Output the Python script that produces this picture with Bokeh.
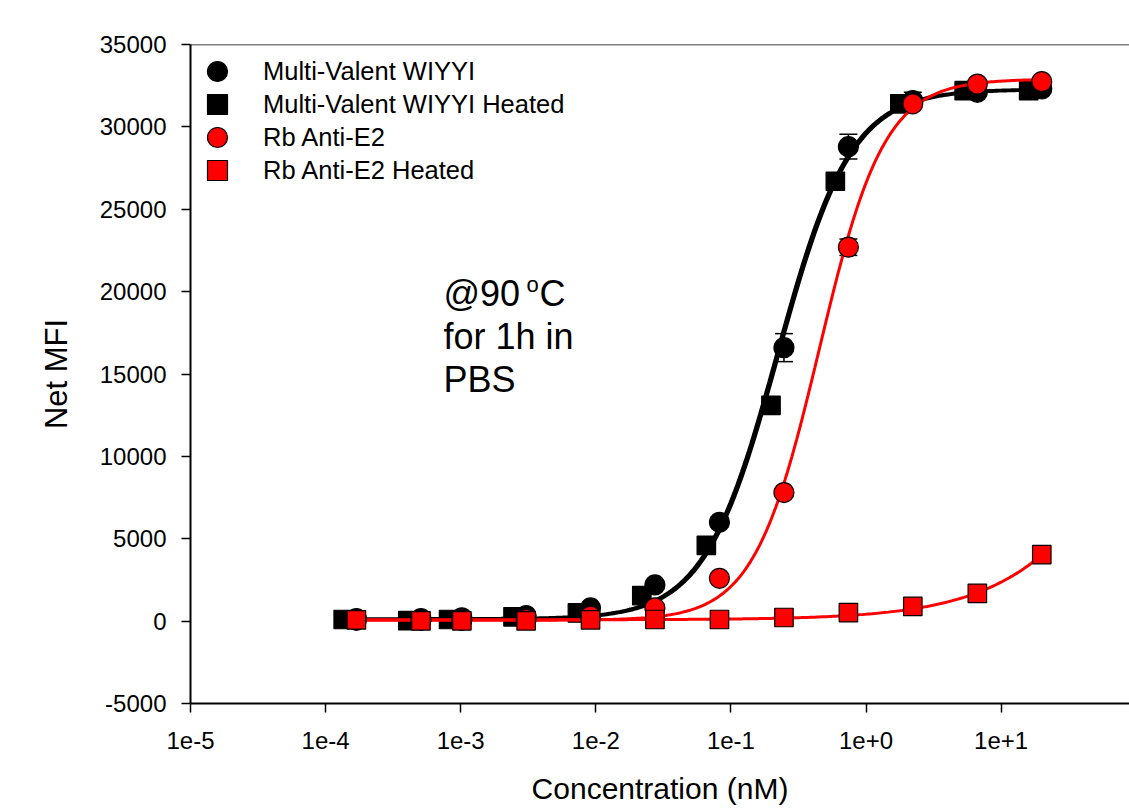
import numpy as np
from bokeh.plotting import figure
from bokeh.models import FixedTicker, Label, Span, Whisker, ColumnDataSource, TeeHead, Legend, LegendItem
from bokeh.embed import file_html
from bokeh.resources import INLINE

FONT = "Liberation Sans"

# ---- data ----
conc = [20, 6.67, 2.22, 0.741, 0.247, 0.0823, 0.0274, 0.00914, 0.00305, 0.00102, 0.000508, 0.000169]
conc_mv_heated = [16, 5.33, 1.78, 0.593, 0.198, 0.0658, 0.0219, 0.00731, 0.00244, 0.000813, 0.000406, 0.000135]

mv_y = [32300, 32100, 31600, 28800, 16600, 6000, 2200, 800, 340, 200, 150, 150]
mv_err = [0, 0, 500, 750, 850, 300, 0, 0, 0, 0, 0, 0]
mvh_y = [32200, 32200, 31400, 26700, 13100, 4600, 1550, 500, 260, 100, 30, 100]
rb_y = [32750, 32600, 31400, 22700, 7800, 2600, 800, 300, 100, 50, 50, 50]
rb_err = [0, 0, 0, 500, 0, 0, 0, 0, 0, 0, 0, 0]
rbh_y = [4040, 1680, 890, 520, 220, 100, 100, 80, 20, 20, 20, 80]

# 4-parameter logistic fits: (bottom, top, EC50, hill)
mv_fit = (150, 32300, 0.218, 1.6)
mvh_fit = (100, 32250, 0.226, 1.6)
rb_fit = (50, 32900, 0.45, 1.8)
rbh_fit = (80, 40000, 270, 0.85)

series_names = ["Multi-Valent WIYYI", "Multi-Valent WIYYI Heated", "Rb Anti-E2", "Rb Anti-E2 Heated"]

x_ticks = [1e-5, 1e-4, 1e-3, 1e-2, 1e-1, 1e0, 1e1]
x_tick_labels = ["1e-5", "1e-4", "1e-3", "1e-2", "1e-1", "1e+0", "1e+1"]
y_ticks = [-5000, 0, 5000, 10000, 15000, 20000, 25000, 30000, 35000]
y_tick_labels = ["-5000", "0", "5000", "10000", "15000", "20000", "25000", "30000", "35000"]


def fit_curve(xs, params):
    b, t, ec, h = params
    xx = np.logspace(np.log10(min(xs)), np.log10(max(xs)), 300)
    yy = b + (t - b) / (1.0 + (ec / xx) ** h)
    return xx, yy


p = figure(width=1129, height=812, x_axis_type="log", x_range=(1e-5, 89.2), y_range=(-5000, 35000),
           output_backend="svg", toolbar_location=None,
           min_border_left=190, min_border_right=0, min_border_top=44, min_border_bottom=109,
           background_fill_color="white", border_fill_color="white")
p.outline_line_color = None
p.grid.visible = False

# error bars (under markers)
def add_err(xs, ys, errs):
    idx = [i for i, e in enumerate(errs) if e > 0]
    src = ColumnDataSource(dict(x=[xs[i] for i in idx],
                                lo=[ys[i] - errs[i] for i in idx],
                                hi=[ys[i] + errs[i] for i in idx]))
    w = Whisker(base="x", lower="lo", upper="hi", source=src, dimension="height",
                line_color="black", line_width=1.5, level="underlay",
                upper_head=TeeHead(size=18, line_color="black", line_width=1.5),
                lower_head=TeeHead(size=18, line_color="black", line_width=1.5))
    p.add_layout(w)

add_err(conc, mv_y, mv_err)
add_err(conc, rb_y, rb_err)

# black series
xx, yy = fit_curve(conc, mv_fit)
p.line(xx, yy, line_color="black", line_width=3)
xx, yy = fit_curve(conc_mv_heated, mvh_fit)
p.line(xx, yy, line_color="black", line_width=3)
r_mv = p.scatter(conc, mv_y, marker="circle", size=20, fill_color="black", line_color="black",
                 line_width=1.2)
r_mvh = p.scatter(conc_mv_heated, mvh_y, marker="square", size=18.5, fill_color="black",
                  line_color="black", line_width=1.2)

# red series
xx, yy = fit_curve(conc, rb_fit)
p.line(xx, yy, line_color="#ff0000", line_width=3)
xx, yy = fit_curve(conc, rbh_fit)
p.line(xx, yy, line_color="#ff0000", line_width=3)
r_rb = p.scatter(conc, rb_y, marker="circle", size=20, fill_color="#ff0000", line_color="black",
                 line_width=1.2)
r_rbh = p.scatter(conc, rbh_y, marker="square", size=18.5, fill_color="#ff0000", line_color="black",
                  line_width=1.2)

# top border line
p.add_layout(Span(location=35000, dimension="width", line_color="black", line_width=1.5))

# axes
p.xaxis.ticker = FixedTicker(ticks=x_ticks)
p.xaxis.major_label_overrides = {t: l for t, l in zip(x_ticks, x_tick_labels)}
p.yaxis.ticker = FixedTicker(ticks=y_ticks)
p.yaxis.major_label_overrides = {t: l for t, l in zip(y_ticks, y_tick_labels)}
p.xaxis.axis_label = "Concentration (nM)"
p.yaxis.axis_label = "Net MFI"
for ax in (p.xaxis, p.yaxis):
    ax.axis_line_color = "black"
    ax.axis_line_width = 2
    ax.major_tick_line_color = "black"
    ax.major_tick_line_width = 1.5
    ax.major_tick_in = 0
    ax.major_tick_out = 9
    ax.minor_tick_line_color = None
    ax.major_label_text_font = FONT
    ax.major_label_text_font_size = "24px"
    ax.major_label_text_color = "black"
    ax.major_label_standoff = 15
    ax.axis_label_text_font = FONT
    ax.axis_label_text_font_size = "30px"
    ax.axis_label_text_font_style = "normal"
    ax.axis_label_text_color = "black"
p.yaxis.axis_label_text_font_size = "31px"
p.xaxis.major_label_standoff = 19
p.xaxis.axis_label_standoff = 20
p.yaxis.axis_label_standoff = 23

# legend: one entry per row, rows 33 px apart
legend_rows_y = [607, 574, 541, 508]
for name, r, ly in zip(series_names, [r_mv, r_mvh, r_rb, r_rbh], legend_rows_y):
    lg = Legend(items=[LegendItem(label=name, renderers=[r])], location=(2, ly),
                margin=0, padding=0, glyph_width=50, glyph_height=50, label_standoff=21,
                label_text_font=FONT, label_text_font_size="25.5px", label_text_color="black",
                border_line_color=None, background_fill_alpha=0)
    p.add_layout(lg)

# annotation text (screen units relative to frame bottom-left)
ann = [("@90", 253, 410, "36px"), ("o", 336, 419, "22px"), ("C", 349, 410, "36px"),
       ("for 1h in", 253, 367, "36px"), ("PBS", 253, 324, "36px")]
for txt, xs, ys, fs in ann:
    p.add_layout(Label(x=xs, y=ys, x_units="screen", y_units="screen", text=txt,
                       text_font=FONT, text_font_size=fs, text_color="black",
                       text_baseline="alphabetic", text_align="left"))

open("out.html", "w").write(file_html(p, INLINE))
